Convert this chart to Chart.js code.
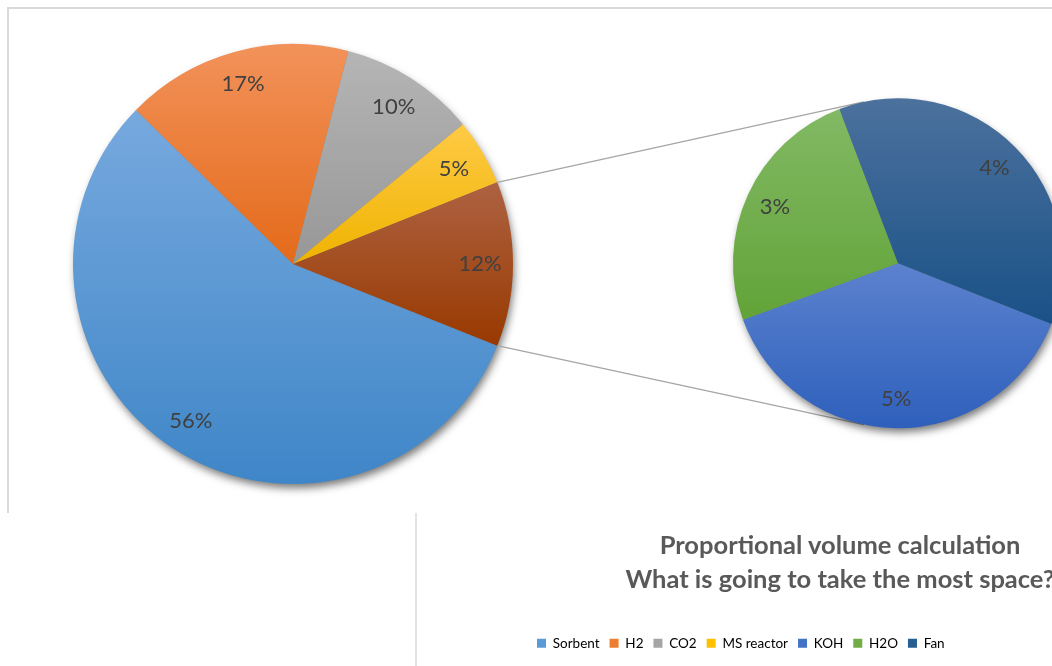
<!DOCTYPE html>
<html>
<head>
<meta charset="utf-8">
<script src="https://cdn.jsdelivr.net/npm/chart.js@4/dist/chart.umd.min.js"></script>
<style>
  html, body { margin: 0; padding: 0; background: #fff; }
  body { width: 1052px; height: 666px; position: relative; overflow: hidden; }
  .rule { position: absolute; background: #d9d9d9; }
  #mainPie { position: absolute; left: 0; top: 0; z-index: 1; }
  #subPie { position: absolute; left: 527px; top: -100px; z-index: 2; }
  #title {
    position: absolute; left: 490px; top: 527px; width: 700px; z-index: 3;
    text-align: center; font: bold 25.5px Lato, sans-serif; line-height: 34px; color: #595959;
  }
</style>
</head>
<body>
<div class="rule" style="left:7px;top:7px;width:1060px;height:2px"></div>
<div class="rule" style="left:7px;top:7px;width:2px;height:506px"></div>
<div class="rule" style="left:415px;top:513px;width:2px;height:160px;background:#e3e3e3"></div>

<canvas id="mainPie" width="1052" height="528"></canvas>
<canvas id="subPie" width="742" height="766"></canvas>
<div id="title">Proportional volume calculation<br>What is going to take the most space?</div>

<script>
// main pie: the last slice is broken out into the small pie
const mainLabels = ['Sorbent', 'H2', 'CO2', 'MS reactor', 'Other'];
const mainValues = [56.3, 16.7, 10.0, 4.9, 12.1];

const subLabels = ['KOH', 'H2O', 'Fan'];
const subValues = [4.65, 3.0, 4.45];

// [top, bottom] of each slice's vertical gradient, base colour for the legend
const mainShades = [['#77a9de', '#3f86c8'], ['#f2925a', '#e46a1a'], ['#b5b5b5', '#979797'],
                    ['#ffca45', '#efb300'], ['#ae6242', '#983900']];
const mainBase = ['#5b9bd5', '#ed7d31', '#a5a5a5', '#ffc000', '#9e480e'];
const subShades = [['#5c82ce', '#2e60bc'], ['#82b964', '#62a338'], ['#4c719d', '#195187']];
const subBase = ['#4472c4', '#70ad47', '#255e91'];

const otherShare = mainValues[mainValues.length - 1] / mainValues.reduce((a, b) => a + b, 0);
// centre the broken-out slice on the right-hand horizontal
const mainRotation = 90 + otherShare * 180;

function inSweep(a, s, e) {
  for (let k = -2; k <= 2; k++) {
    const t = a + k * Math.PI * 2;
    if (t >= s && t <= e) return true;
  }
  return false;
}

// vertical gradient per slice, over the slice's own bounding box
const sliceGradient = {
  id: 'sliceGradient',
  beforeDatasetsDraw(chart, args, opts) {
    const ctx = chart.ctx;
    chart.getDatasetMeta(0).data.forEach((arc, i) => {
      const {x, y, startAngle, endAngle, outerRadius} = arc;
      let top = Math.min(y, y + Math.sin(startAngle) * outerRadius, y + Math.sin(endAngle) * outerRadius);
      let bottom = Math.max(y, y + Math.sin(startAngle) * outerRadius, y + Math.sin(endAngle) * outerRadius);
      if (inSweep(-Math.PI / 2, startAngle, endAngle)) top = y - outerRadius;
      if (inSweep(Math.PI / 2, startAngle, endAngle)) bottom = y + outerRadius;
      const g = ctx.createLinearGradient(0, top, 0, bottom);
      g.addColorStop(0, opts.shades[i][0]);
      g.addColorStop(1, opts.shades[i][1]);
      arc.options.backgroundColor = g;
    });
  }
};

// soft drop shadow under the whole pie
const pieShadow = {
  id: 'pieShadow',
  beforeDatasetsDraw(chart) {
    const arc = chart.getDatasetMeta(0).data[0];
    if (!arc) return;
    const ctx = chart.ctx;
    ctx.save();
    ctx.shadowColor = 'rgba(0,0,0,0.55)';
    ctx.shadowBlur = 9;
    ctx.shadowOffsetX = 2;
    ctx.shadowOffsetY = 5;
    ctx.fillStyle = '#7f7f7f';
    ctx.beginPath();
    ctx.arc(arc.x, arc.y, arc.outerRadius - 1, 0, Math.PI * 2);
    ctx.fill();
    ctx.restore();
  }
};

// percentage labels inside the slices
const sliceLabels = {
  id: 'sliceLabels',
  afterDatasetsDraw(chart, args, opts) {
    const ctx = chart.ctx;
    const values = chart.data.datasets[0].data;
    ctx.save();
    ctx.font = '22px Lato';
    ctx.fillStyle = '#404040';
    ctx.textAlign = 'center';
    ctx.textBaseline = 'middle';
    chart.getDatasetMeta(0).data.forEach((arc, i) => {
      const mid = (arc.startAngle + arc.endAngle) / 2;
      const r = arc.outerRadius * opts.distance;
      ctx.fillText(Math.round(values[i]) + '%', arc.x + Math.cos(mid) * r, arc.y + Math.sin(mid) * r);
    });
    ctx.restore();
  }
};

const subChart = new Chart('subPie', {
  type: 'pie',
  data: {
    labels: subLabels,
    datasets: [{ data: subValues, backgroundColor: subBase, borderWidth: 0 }]
  },
  options: {
    responsive: false,
    animation: false,
    events: [],
    radius: 165,
    rotation: 111.6,
    layout: { padding: { bottom: 6 } },
    plugins: {
      tooltip: { enabled: false },
      sliceGradient: { shades: subShades },
      sliceLabels: { distance: 0.82 },
      legend: {
        position: 'bottom',
        align: 'start',
        labels: {
          boxWidth: 9,
          boxHeight: 9,
          padding: 10,
          color: '#595959',
          font: { family: 'Lato', size: 13.5 },
          generateLabels() {
            const names = mainLabels.slice(0, -1).concat(subLabels);
            const colors = mainBase.slice(0, -1).concat(subBase);
            return names.map((text, i) => ({
              text, fillStyle: colors[i], strokeStyle: colors[i], lineWidth: 0, hidden: false, index: i
            }));
          }
        }
      }
    }
  },
  plugins: [pieShadow, sliceGradient, sliceLabels]
});

// grey lines from the broken-out slice to the top and bottom of the small pie
const connectors = {
  id: 'connectors',
  afterDatasetsDraw(chart) {
    const meta = chart.getDatasetMeta(0);
    const other = meta.data[meta.data.length - 1];
    const sub = subChart.getDatasetMeta(0).data[0];
    const a = chart.canvas.getBoundingClientRect();
    const b = subChart.canvas.getBoundingClientRect();
    const cx = sub.x + b.left - a.left;
    const cy = sub.y + b.top - a.top;
    const tip = 102 * Math.PI / 180;
    const ends = [[other.startAngle, -tip], [other.endAngle, tip]];
    const ctx = chart.ctx;
    ctx.save();
    ctx.strokeStyle = '#a6a6a6';
    ctx.lineWidth = 1.3;
    ends.forEach(([from, to]) => {
      ctx.beginPath();
      ctx.moveTo(other.x + Math.cos(from) * other.outerRadius, other.y + Math.sin(from) * other.outerRadius);
      ctx.lineTo(cx + Math.cos(to) * sub.outerRadius, cy + Math.sin(to) * sub.outerRadius);
      ctx.stroke();
    });
    ctx.restore();
  }
};

new Chart('mainPie', {
  type: 'pie',
  data: {
    labels: mainLabels,
    datasets: [{ data: mainValues, backgroundColor: mainBase, borderWidth: 0 }]
  },
  options: {
    responsive: false,
    animation: false,
    events: [],
    radius: 220,
    rotation: mainRotation,
    layout: { padding: { right: 466 } },
    plugins: {
      legend: { display: false },
      tooltip: { enabled: false },
      sliceGradient: { shades: mainShades },
      sliceLabels: { distance: 0.85 }
    }
  },
  plugins: [pieShadow, sliceGradient, connectors, sliceLabels]
});
</script>
</body>
</html>
